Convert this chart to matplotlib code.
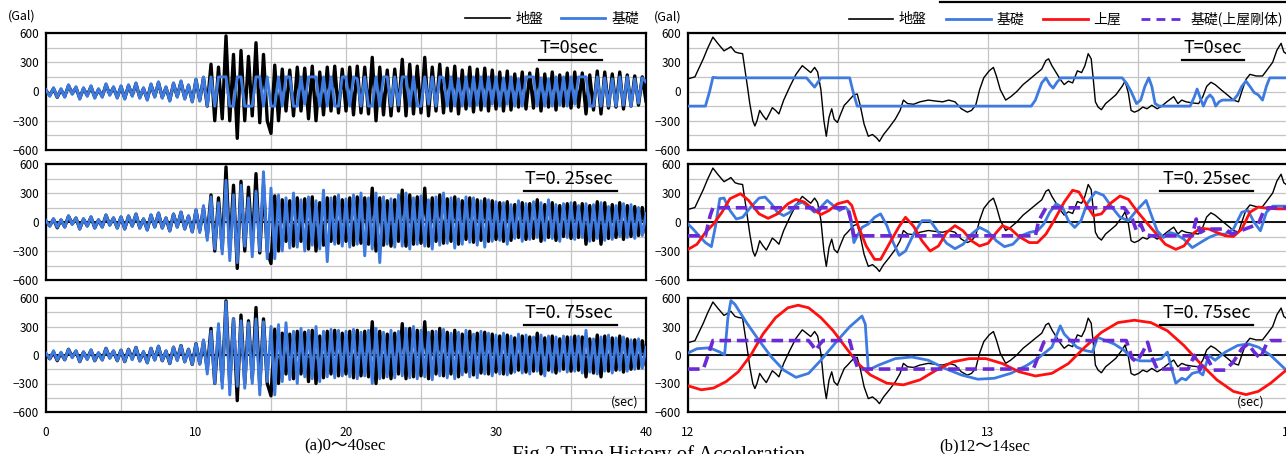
import numpy as np
import matplotlib
matplotlib.use("Agg")
import matplotlib.pyplot as plt
from matplotlib.lines import Line2D

plt.rcParams['font.family'] = ['Noto Sans CJK JP', 'DejaVu Sans']

W, H = 1286, 454

# ── (a) 0-40 sec : values every 0.25 s (Gal) ─────────────────────────────────
DT = 0.25
gnd_a = [
    10, -40, 30, -60, 20, -50, 60, -20, 40, -70, 30, -40, 50, -60, 20, -50, 70, -30, 40, -60,
    50, -70, 60, -40, 80, -60, 30, -80, 70, -50, 90, -60, 40, -90, 80, -50, 100, -70, 60, -100,
    120, -90, 140, -150, 280, -300, 250, -280, 570, -300, 380, -480, 420, -300, 360, -250, 500, -320, 380, -300,
    -430, 270, -300, 230, -200, 220, -250, 250, -200, 240, -280, 260, -300, 200, -240, 250, -200, 260, -220, 230,
    -200, 250, -240, 260, -220, 250, -230, 350, -300, 250, -240, 220, -250, 230, -200, 330, -250, 280, -230, 260,
    -220, 350, -250, 250, -200, 280, -220, 240, -200, 260, -230, 220, -180, 250, -210, 230, -190, 240, -200, 220,
    -180, 200, -200, 210, -190, 180, -160, 200, -180, 190, -170, 230, -200, 180, -160, 200, -190, 170, -150, 190,
    -170, 200, -160, 190, -230, 170, -190, 210, -230, 200, -170, 180, -160, 200, -180, 170, -150, 160, -140, 150,
    -100]
b0_a = [
    20, -50, 40, -60, 30, -60, 70, -30, 50, -80, 40, -50, 60, -70, 30, -60, 80, -40, 50, -70,
    60, -80, 70, -50, 90, -70, 40, -90, 80, -60, 100, -70, 50, -100, 90, -60, 110, -80, 70, -110,
    130, -100, 150, -150, 150, -150, 150, 150, 150, -150, -150, 150, 150, -150, -150, -150, 150, 150, -150, 150,
    -150, -150, 150, -150, 150, 150, -150, -150, 150, -130, 150, 150, 150, -150, 150, -150, 150, -150, -150, 150,
    150, -150, 150, 130, -150, 150, -150, -150, 150, -150, 150, 150, -150, 150, -140, 150, 150, -150, 150, -150,
    -150, 150, -130, 150, -150, 150, 140, -150, 150, -150, 130, -150, 150, -150, 150, -140, 150, -150, 150, -130,
    150, -150, 140, -130, 150, -150, 130, -150, 150, 150, 150, -150, 140, -150, 130, -150, 150, -140, 150, -150,
    150, -130, 150, 150, 150, -150, -150, 150, -150, 140, -150, 130, -150, 150, -140, 150, -150, 130, -120, 140,
    100]
b25_a = [
    15, -45, 35, -55, 25, -55, 65, -25, 45, -75, 35, -45, 55, -65, 25, -55, 75, -35, 45, -65,
    55, -75, 65, -45, 85, -65, 35, -85, 75, -55, 95, -65, 45, -95, 85, -55, 105, -75, 65, -105,
    130, -110, 170, -190, 260, -280, 200, -330, 430, -400, 280, -420, 380, -250, 250, -360, 320, -300, 520, -380,
    350, -380, 280, -300, 250, -270, 300, -260, 230, -300, 260, -240, 220, -280, 330, -410, 250, -230, 280, -250,
    240, -260, 280, -230, 300, -350, 250, -280, 300, -420, 260, -230, 240, -260, 280, -250, 300, -280, 250, -230,
    270, -250, 230, -280, 260, -240, 300, -220, 250, -270, 240, -230, 260, -210, 250, -240, 220, -260, 230, -200,
    210, -190, 200, -230, 180, -170, 220, -200, 190, -180, 210, -160, 200, -190, 230, -170, 180, -200, 190, -160,
    200, -180, 170, -160, 190, -200, 180, -170, 200, -190, 160, -180, 170, -150, 190, -160, 180, -170, 150, -140,
    90]
b75_a = [
    20, -40, 45, -55, 30, -50, 60, -30, 45, -70, 35, -50, 55, -60, 25, -55, 70, -35, 45, -60,
    50, -70, 60, -50, 80, -65, 40, -85, 70, -55, 95, -60, 45, -90, 85, -60, 100, -75, 60, -100,
    120, -100, 160, -200, 250, -300, 330, -350, 560, -420, 380, -330, 360, -350, 340, -300, 380, -420, 350, -280,
    300, -420, 320, -280, 340, -260, 250, -300, 280, -230, 260, -250, 300, -280, 250, -230, 270, -240, 260, -220,
    250, -230, 270, -250, 240, -220, 260, -300, 280, -250, 240, -230, 260, -240, 250, -220, 280, -240, 300, -250,
    260, -230, 240, -260, 250, -220, 270, -240, 230, -250, 240, -210, 260, -230, 220, -240, 250, -200, 230, -220,
    210, -200, 230, -210, 200, -180, 220, -190, 210, -200, 190, -170, 210, -220, 200, -180, 190, -170, 200, -180,
    190, -170, 200, -190, 260, -180, 170, -200, 190, -170, 210, -190, 180, -160, 190, -170, 160, -150, 170, -140,
    80]

# ── (b) 12-14 sec : (time, Gal) ──────────────────────────────────────────────
gnd_t = [12.000, 12.023, 12.051, 12.065, 12.083, 12.099, 12.120, 12.133, 12.143, 12.157,
         12.168, 12.182, 12.188, 12.198, 12.206, 12.216, 12.223, 12.230, 12.239, 12.250,
         12.261, 12.271, 12.281, 12.292, 12.303, 12.319, 12.340, 12.360, 12.381, 12.395,
         12.409, 12.422, 12.432, 12.443, 12.453, 12.461, 12.470, 12.479, 12.487, 12.498,
         12.509, 12.521, 12.532, 12.542, 12.553, 12.564, 12.574, 12.587, 12.601, 12.615,
         12.629, 12.638, 12.652, 12.670, 12.691, 12.707, 12.718, 12.732, 12.752, 12.773,
         12.801, 12.828, 12.849, 12.869, 12.890, 12.911, 12.931, 12.945, 12.959, 12.972,
         12.986, 13.004, 13.018, 13.028, 13.041, 13.059, 13.076, 13.096, 13.117, 13.138,
         13.158, 13.179, 13.193, 13.202, 13.213, 13.227, 13.241, 13.254, 13.268, 13.282,
         13.298, 13.312, 13.323, 13.334, 13.344, 13.351, 13.358, 13.367, 13.378, 13.392,
         13.406, 13.426, 13.447, 13.457, 13.468, 13.477, 13.488, 13.502, 13.516, 13.530,
         13.546, 13.564, 13.578, 13.596, 13.619, 13.633, 13.646, 13.660, 13.681, 13.702,
         13.716, 13.729, 13.743, 13.757, 13.777, 13.798, 13.818, 13.835, 13.846, 13.860,
         13.873, 13.894, 13.915, 13.928, 13.949, 13.963, 13.977, 13.986, 13.994, 14.02]
gnd_v = [130, 150, 335, 440, 558, 494, 417, 440, 460, 406,
         395, 388, 265, 53, -124, -300, -353, -300, -194, -247,
         -290, -230, -166, -194, -230, -88, 53, 176, 265, 229,
         194, 247, 201, 18, -300, -459, -265, -177, -283, -318,
         -230, -141, -106, -71, -35, -25, -141, -335, -459, -441,
         -477, -512, -441, -371, -283, -194, -88, -124, -131, -106,
         -88, -99, -106, -88, -106, -177, -212, -194, -141, 18,
         141, 212, 247, 159, 18, -88, -53, 0, 71, 124,
         176, 229, 318, 335, 265, 194, 124, 71, 106, 88,
         212, 194, 265, 388, 335, 124, -106, -159, -187, -124,
         -88, -35, 53, 106, -18, -194, -212, -194, -159, -177,
         -141, -177, -152, -106, -53, -124, -88, -106, -117, -124,
         -53, 53, 95, 71, 18, -35, -88, -106, 0, 124,
         176, 159, 159, 212, 300, 424, 494, 406, 388, 300]

b0_t = [12.000, 12.058, 12.072, 12.083, 12.099, 12.395, 12.409, 12.422, 12.432, 12.443,
        12.539, 12.550, 12.564, 13.144, 13.158, 13.179, 13.193, 13.206, 13.217, 13.230,
        13.243, 13.447, 13.461, 13.477, 13.495, 13.509, 13.523, 13.536, 13.546, 13.557,
        13.571, 13.674, 13.688, 13.697, 13.708, 13.718, 13.729, 13.740, 13.750, 13.759,
        13.770, 13.781, 13.818, 13.832, 13.846, 13.860, 13.873, 13.887, 13.901, 13.915,
        13.928, 13.939, 14.02]
b0_v = [-150, -150, 0, 145, 140, 140, 90, 45, 90, 140,
        140, 0, -150, -150, -88, 88, 140, 71, 35, 95,
        140, 140, 88, 0, -124, -88, 53, 140, 53, -124,
        -150, -150, -53, 25, -70, -150, -70, -35, -70, -150,
        -106, -88, -88, -35, 53, 106, 53, -10, -35, -88,
        53, 140, 140]

r25_t = [12.000, 12.030, 12.058, 12.085, 12.113, 12.140, 12.175, 12.202, 12.237, 12.267,
         12.298, 12.333, 12.360, 12.388, 12.415, 12.443, 12.470, 12.498, 12.532, 12.546,
         12.567, 12.594, 12.622, 12.642, 12.670, 12.704, 12.725, 12.752, 12.780, 12.807,
         12.835, 12.862, 12.890, 12.917, 12.945, 12.972, 13.000, 13.028, 13.048, 13.076,
         13.103, 13.138, 13.165, 13.193, 13.220, 13.254, 13.282, 13.303, 13.323, 13.351,
         13.378, 13.406, 13.440, 13.468, 13.495, 13.523, 13.557, 13.591, 13.626, 13.653,
         13.688, 13.708, 13.736, 13.763, 13.791, 13.818, 13.846, 13.873, 13.901, 13.928,
         13.963, 14.02]
r25_v = [-283, -230, -108, -21, 101, 241, 293, 223, 84, 38,
         84, 188, 234, 206, 136, 77, 119, 188, 216, 171,
         -38, -248, -387, -387, -230, -45, 49, -45, -195, -300,
         -248, -108, -38, -91, -195, -248, -220, -108, -38, -73,
         -150, -213, -213, -126, 14, 206, 328, 311, 206, 66,
         84, 188, 269, 234, 119, 14, -108, -230, -283, -248,
         -108, -66, -73, -108, -143, -150, -73, 101, 154, 143,
         136, 136]

b25_t = [12.000, 12.017, 12.037, 12.058, 12.078, 12.092, 12.106, 12.120, 12.140, 12.161,
         12.182, 12.209, 12.237, 12.257, 12.278, 12.298, 12.319, 12.340, 12.360, 12.381,
         12.402, 12.422, 12.443, 12.464, 12.484, 12.505, 12.525, 12.539, 12.553, 12.564,
         12.580, 12.601, 12.622, 12.642, 12.663, 12.684, 12.704, 12.725, 12.752, 12.780,
         12.807, 12.835, 12.862, 12.890, 12.917, 12.945, 12.972, 13.000, 13.028, 13.055,
         13.083, 13.110, 13.138, 13.165, 13.186, 13.206, 13.227, 13.248, 13.268, 13.289,
         13.310, 13.330, 13.358, 13.385, 13.413, 13.440, 13.468, 13.495, 13.527, 13.543,
         13.564, 13.585, 13.605, 13.626, 13.653, 13.681, 13.708, 13.736, 13.763, 13.791,
         13.818, 13.846, 13.867, 13.887, 13.908, 13.928, 13.949, 14.02]
b25_v = [-21, -73, -143, -213, -255, -38, 241, 248, 119, 31,
         49, 154, 248, 258, 188, 101, 66, 101, 178, 206,
         154, 101, 154, 223, 171, 119, 154, 101, -213, -143,
         -56, -21, 49, 84, -38, -213, -345, -300, -126, 14,
         14, -108, -220, -276, -230, -126, -56, -101, -195, -255,
         -230, -143, -108, -91, -21, 101, 188, 154, 14, -56,
         14, 188, 311, 276, 154, 49, 14, 119, 223, 84,
         -91, -161, -108, -126, -178, -265, -213, -161, -126, -126,
         -73, 101, 119, -3, -91, 101, 164, 164]

p25_t = [12.000, 12.058, 12.074, 12.083, 12.415, 12.429, 12.443, 12.532, 12.542, 12.553,
         13.158, 13.169, 13.193, 13.454, 13.481, 13.495, 13.509, 13.523, 13.543, 13.681,
         13.694, 13.708, 13.729, 13.791, 13.812, 13.901, 13.922, 13.935, 14.02]
p25_v = [-143, -143, 66, 147, 147, 84, 147, 147, 31, -143,
         -143, 14, 147, 147, 31, -91, -21, -126, -143, -143,
         31, -108, -73, -73, -126, -21, 136, 147, 147]

r75_t = [12.000, 12.044, 12.085, 12.127, 12.168, 12.209, 12.250, 12.292, 12.333, 12.367,
         12.402, 12.443, 12.484, 12.525, 12.567, 12.608, 12.663, 12.718, 12.773, 12.828,
         12.883, 12.938, 12.993, 13.048, 13.103, 13.158, 13.213, 13.268, 13.323, 13.378,
         13.433, 13.488, 13.543, 13.598, 13.653, 13.708, 13.763, 13.818, 13.860, 13.901,
         13.942, 13.994, 14.02]
r75_v = [-324, -366, -348, -280, -176, -3, 221, 393, 497, 524,
         497, 393, 255, 83, -90, -210, -297, -314, -262, -159,
         -72, -38, -38, -90, -176, -221, -193, -90, 83, 238,
         341, 366, 341, 255, 100, -90, -262, -383, -417, -383,
         -297, -159, -100]

b75_t = [12.000, 12.030, 12.072, 12.106, 12.122, 12.133, 12.143, 12.157, 12.195, 12.237,
         12.278, 12.319, 12.360, 12.402, 12.443, 12.498, 12.539, 12.580, 12.591, 12.601,
         12.635, 12.691, 12.746, 12.801, 12.856, 12.911, 12.966, 13.021, 13.076, 13.131,
         13.172, 13.213, 13.241, 13.254, 13.275, 13.296, 13.323, 13.348, 13.365, 13.392,
         13.420, 13.454, 13.481, 13.509, 13.543, 13.578, 13.598, 13.612, 13.626, 13.646,
         13.660, 13.681, 13.702, 13.716, 13.736, 13.757, 13.791, 13.832, 13.867, 13.901,
         13.942, 13.994, 14.02]
b75_v = [21, 66, 76, 31, 3, 393, 573, 531, 341, 152,
         -21, -159, -235, -193, -55, 152, 297, 410, 324, -159,
         -107, -38, -21, -55, -141, -210, -255, -245, -193, -107,
         -21, 83, 307, 221, 152, 83, 48, 31, 186, 152,
         117, 48, -38, -62, -62, -38, 31, -141, -297, -245,
         -262, -193, -176, -210, -3, -55, 31, 100, 117, 83,
         -3, -159, -200]

p75_t = [12.000, 12.051, 12.065, 12.083, 12.402, 12.415, 12.426, 12.440, 12.450, 12.539,
         12.553, 12.567, 13.151, 13.169, 13.186, 13.199, 13.461, 13.481, 13.495, 13.516,
         13.532, 13.546, 13.564, 13.667, 13.688, 13.706, 13.729, 13.752, 13.791, 13.818,
         13.846, 13.867, 13.887, 13.908, 13.928, 13.942, 14.02]
p75_v = [-148, -148, -21, 152, 152, 100, 48, 117, 152, 152,
         -21, -148, -148, -3, 135, 152, 152, -38, -72, 31,
         135, -21, -148, -148, -3, -159, -21, -159, -159, -72,
         66, 117, 31, -38, 117, 152, 152]

LABELS = ['地盤', '基礎', '上屋', '基礎(上屋剛体)']
PERIODS = ['T=0sec', 'T=0. 25sec', 'T=0. 75sec']

C_GND = 'black'
C_BASE = '#3d7be0'
C_TOP = '#ff1010'
C_RIGID = '#6a2bd6'

fig = plt.figure(figsize=(W / 100, H / 100), dpi=100)


def px_axes(x0, x1, y0, y1):
    return fig.add_axes([x0 / W, 1 - y1 / H, (x1 - x0) / W, (y1 - y0) / H])


def style(ax, xlim, major, minor, black_zero, show_x):
    ax.set_xlim(*xlim)
    ax.set_ylim(-600, 600)
    ax.set_xticks(major)
    ax.set_xticks(minor, minor=True)
    ax.set_yticks([-600, -300, 0, 300, 600])
    ax.set_yticks(np.arange(-600, 601, 150), minor=True)
    ax.grid(True, which='both', color='#c4c4c4', lw=0.9)
    ax.set_axisbelow(True)
    ax.tick_params(which='both', length=0, labelsize=8.5)
    ax.tick_params(axis='y', pad=5)
    ax.tick_params(axis='x', pad=10)
    if not show_x:
        ax.set_xticklabels([])
    for s in ax.spines.values():
        s.set_linewidth(1.6)
        s.set_color('black')
    if black_zero:
        ax.axhline(0, color='black', lw=1.3, zorder=1.5)


def period_label(ax, text, xc, x0, x1):
    ax.text(xc, 0.87, text, transform=ax.transAxes, ha='center', va='center',
            fontsize=13, zorder=5)
    ax.plot([x0, x1], [0.765, 0.765], transform=ax.transAxes, color='black',
            lw=1.6, zorder=5, clip_on=False)


rows = [(33, 150), (164, 280), (298, 412)]
blue_a = [b0_a, b25_a, b75_a]
ta = np.arange(len(gnd_a)) * DT

# ── (a) 0~40sec ──────────────────────────────────────────────────────────────
for i, (y0, y1) in enumerate(rows):
    ax = px_axes(46, 646, y0, y1)
    style(ax, (0, 40), [0, 10, 20, 30, 40], np.arange(0, 41, 5), i > 0, i == 2)
    ax.plot(ta, gnd_a, color=C_GND, lw=2.4, zorder=2)
    ax.plot(ta, blue_a[i], color=C_BASE, lw=2.1, zorder=3)
    if i == 0:
        period_label(ax, PERIODS[i], 0.872, 0.822, 0.927)
    else:
        period_label(ax, PERIODS[i], 0.872, 0.797, 0.952)
    if i == 2:
        ax.text(0.965, 0.09, '(sec)', transform=ax.transAxes, ha='center',
                va='center', fontsize=9)

# ── (b) 12~14sec ─────────────────────────────────────────────────────────────
series_b = [
    [(b0_t, b0_v)],
    [(b25_t, b25_v), (r25_t, r25_v), (p25_t, p25_v)],
    [(b75_t, b75_v), (r75_t, r75_v), (p75_t, p75_v)],
]
for i, (y0, y1) in enumerate(rows):
    ax = px_axes(688, 1288, y0, y1)
    style(ax, (12, 14), [12, 13, 14], np.arange(12, 14.01, 0.5), i > 0, i == 2)
    ax.plot(gnd_t, gnd_v, color=C_GND, lw=1.0, zorder=2)
    ser = series_b[i]
    ax.plot(*ser[0], color=C_BASE, lw=2.0, zorder=3)
    if len(ser) > 1:
        ax.plot(*ser[1], color=C_TOP, lw=2.0, zorder=3)
        ax.plot(*ser[2], color=C_RIGID, lw=2.6, ls=(0, (3.2, 1.6)), zorder=4)
    if i == 0:
        period_label(ax, PERIODS[i], 0.875, 0.823, 0.927)
    else:
        period_label(ax, PERIODS[i], 0.865, 0.787, 0.942)
    if i == 2:
        ax.text(0.937, 0.09, '(sec)', transform=ax.transAxes, ha='center',
                va='center', fontsize=9)

# ── units, legends, captions ─────────────────────────────────────────────────
fig.text(22 / W, 1 - 16 / H, '(Gal)', ha='center', va='center', fontsize=9)
fig.text(668 / W, 1 - 17 / H, '(Gal)', ha='center', va='center', fontsize=9)

h_gnd = Line2D([], [], color=C_GND, lw=1.2)
h_base = Line2D([], [], color=C_BASE, lw=2.0)
h_top = Line2D([], [], color=C_TOP, lw=2.0)
h_rigid = Line2D([], [], color=C_RIGID, lw=2.0, ls=(0, (3.2, 2.2)))
fig.legend([h_gnd, h_base], LABELS[:2], loc='center', bbox_to_anchor=(552 / W, 1 - 19 / H),
           ncol=2, frameon=False, fontsize=10, handlelength=3.2, handletextpad=0.4,
           columnspacing=1.3, borderaxespad=0)
fig.legend([h_gnd, h_base, h_top, h_rigid], LABELS, loc='center',
           bbox_to_anchor=(1066 / W, 1 - 19 / H), ncol=4, frameon=False, fontsize=10,
           handlelength=3.2, handletextpad=0.4, columnspacing=1.4, borderaxespad=0)

serif = ['Liberation Serif', 'Noto Sans CJK JP']
fig.text(345 / W, 1 - 446 / H, '(a)0〜40sec', ha='center', va='center',
         fontsize=12, family=serif)
fig.text(985 / W, 1 - 446 / H, '(b)12〜14sec', ha='center', va='center',
         fontsize=12, family=serif)
fig.text(512 / W, 1 - 445 / H, 'Fig.2 Time History of Acceleration', ha='left',
         va='top', fontsize=15, family=serif)

# table edge cut off at the top of the page
fig.add_artist(Line2D([940 / W, 1.0], [1 - 1.5 / H, 1 - 1.5 / H], color='black', lw=1.6))

fig.savefig('out.png', dpi=100)
